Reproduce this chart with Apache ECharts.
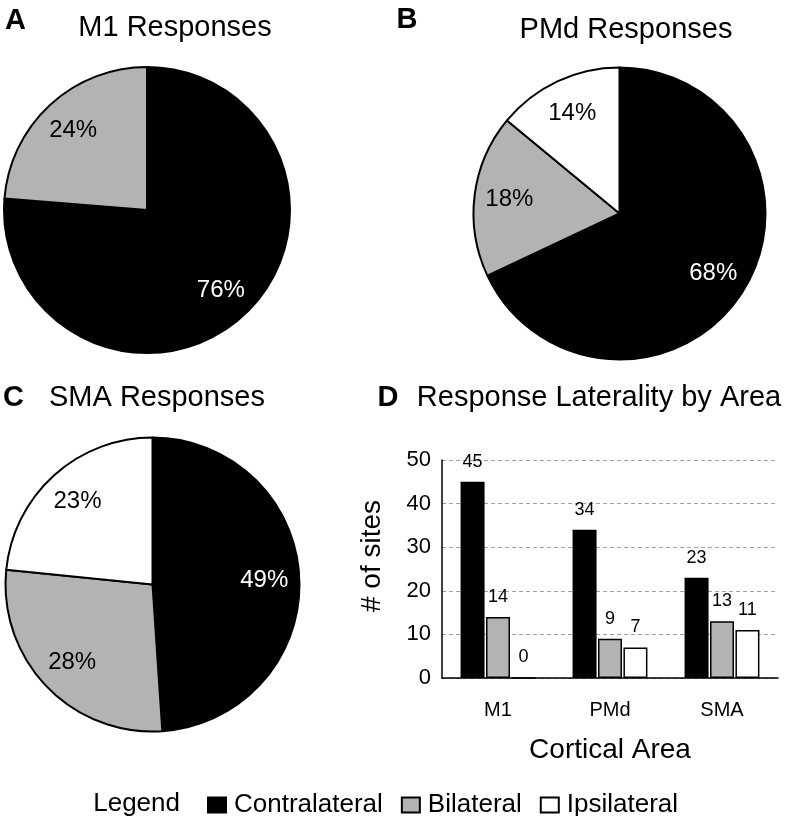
<!DOCTYPE html>
<html>
<head>
<meta charset="utf-8">
<script src="https://cdn.jsdelivr.net/npm/echarts@6.0.0/dist/echarts.min.js"></script>
<style>
html,body{margin:0;padding:0;background:#fff;}
#chart{width:786px;height:816px;}
</style>
</head>
<body>
<div id="chart"></div>
<script>
// ---- data ----
const areas = ['M1', 'PMd', 'SMA'];
const laterality = ['Contralateral', 'Bilateral', 'Ipsilateral'];
const contralateral = [45, 34, 23];
const bilateral = [14, 9, 13];
const ipsilateral = [0, 7, 11];
const yTicks = [0, 10, 20, 30, 40, 50];
const pieTitles = ['M1 Responses', 'PMd Responses', 'SMA Responses'];
const panelLetters = ['A', 'B', 'C', 'D'];
const barTitle = 'Response Laterality by Area';
const yAxisName = '# of sites';
const xAxisName = 'Cortical Area';
const legendTitle = 'Legend';

// ---- styles ----
const FONT = "'Liberation Sans', Arial, Helvetica, sans-serif";
const fills = ['#000000', '#b3b3b3', '#ffffff'];
const labelColors = ['#ffffff', '#000000', '#000000'];
const seriesValues = [contralateral, bilateral, ipsilateral];

const pieLayout = [
  { center: [147, 210], r: 143 },
  { center: [619.5, 213.5], r: 146 },
  { center: [152.5, 584.5], r: 147 }
];

function pieData(i) {
  return laterality.map((name, k) => ({
    name: name,
    value: seriesValues[k][i],
    itemStyle: { color: fills[k] },
    label: { color: labelColors[k] }
  }));
}

const series = [];
areas.forEach((a, i) => {
  const L = pieLayout[i];
  series.push({
    type: 'pie',
    name: a + ' pie',
    center: L.center,
    radius: [0, L.r],
    startAngle: 90,
    clockwise: true,
    silent: true,
    animation: false,
    percentPrecision: 0,
    label: { show: false },
    labelLine: { show: false },
    itemStyle: { borderColor: '#000', borderWidth: 2 },
    data: pieData(i)
  });
  // label-only overlay so labels sit at ~3/4 radius
  series.push({
    type: 'pie',
    name: a + ' labels',
    center: L.center,
    radius: [L.r * 0.48, L.r],
    startAngle: 90,
    clockwise: true,
    silent: true,
    animation: false,
    percentPrecision: 0,
    itemStyle: { color: 'rgba(0,0,0,0)', borderWidth: 0 },
    label: {
      show: true,
      position: 'inside',
      fontFamily: FONT,
      fontSize: 24,
      formatter: p => (p.value > 0 ? p.percent + '%' : '')
    },
    labelLine: { show: false },
    data: pieData(i).map(d => ({ name: d.name, value: d.value, label: d.label }))
  });
});

laterality.forEach((name, k) => {
  series.push({
    type: 'bar',
    name: name,
    xAxisIndex: 0,
    yAxisIndex: 0,
    data: seriesValues[k],
    barWidth: 24,
    barGap: '6%',
    animation: false,
    silent: true,
    itemStyle: { color: fills[k], borderColor: '#000', borderWidth: 1.5 },
    label: {
      show: true,
      position: 'top',
      distance: 11,
      fontFamily: FONT,
      fontSize: 18,
      color: '#000'
    }
  });
});

function txt(text, x, y, size, opts) {
  return {
    type: 'text',
    x: x, y: y,
    silent: true,
    style: Object.assign({
      text: text,
      fontFamily: FONT,
      fontSize: size,
      fill: '#000',
      align: 'center',
      verticalAlign: 'middle'
    }, opts || {})
  };
}

const option = {
  backgroundColor: '#fff',
  animation: false,
  textStyle: { fontFamily: FONT },
  grid: { left: 442, right: 8, top: 460, bottom: 138, containLabel: false },
  xAxis: {
    type: 'category',
    data: areas,
    axisLine: { show: true, lineStyle: { color: '#000', width: 1.5 } },
    axisTick: { show: false },
    axisLabel: { fontFamily: FONT, fontSize: 20, color: '#000', margin: 22 },
    name: xAxisName,
    nameLocation: 'middle',
    nameGap: 58,
    nameTextStyle: { fontFamily: FONT, fontSize: 28, color: '#000' }
  },
  yAxis: {
    type: 'value',
    min: yTicks[0],
    max: yTicks[yTicks.length - 1],
    interval: yTicks[1] - yTicks[0],
    axisLine: { show: true, lineStyle: { color: '#000', width: 1.5 } },
    axisTick: { show: false },
    axisLabel: { fontFamily: FONT, fontSize: 22, color: '#000', margin: 11 },
    splitLine: { show: true, lineStyle: { color: '#a0a0a0', type: [4, 3], width: 1 } },
    name: yAxisName,
    nameLocation: 'middle',
    nameGap: 56,
    nameTextStyle: { fontFamily: FONT, fontSize: 28, color: '#000', padding: [0, 0, 0, 26] }
  },
  legend: {
    data: laterality.map((n, k) => ({
      name: n,
      itemStyle: { color: fills[k], borderColor: '#000', borderWidth: 2 }
    })),
    left: 207,
    top: 792,
    padding: 0,
    itemWidth: 18,
    itemHeight: 15,
    itemGap: 18,
    icon: 'rect',
    selectedMode: false,
    textStyle: { fontFamily: FONT, fontSize: 26, color: '#000', padding: [0, 0, 0, 3] }
  },
  graphic: [
    txt(panelLetters[0], 15.5, 21, 29, { fontWeight: 'bold' }),
    txt(pieTitles[0], 175, 27.5, 29),
    txt(panelLetters[1], 407, 20, 29, { fontWeight: 'bold' }),
    txt(pieTitles[1], 626, 29.5, 29),
    txt(panelLetters[2], 13.5, 397.5, 29, { fontWeight: 'bold' }),
    txt(pieTitles[2], 157, 397.5, 29),
    txt(panelLetters[3], 388, 398, 29, { fontWeight: 'bold' }),
    txt(barTitle, 599, 398, 29),
    txt(legendTitle, 180, 804, 26, { align: 'right' })
  ],
  series: series
};

const chart = echarts.init(document.getElementById('chart'), null, { renderer: 'canvas' });
chart.setOption(option);
</script>
</body>
</html>
